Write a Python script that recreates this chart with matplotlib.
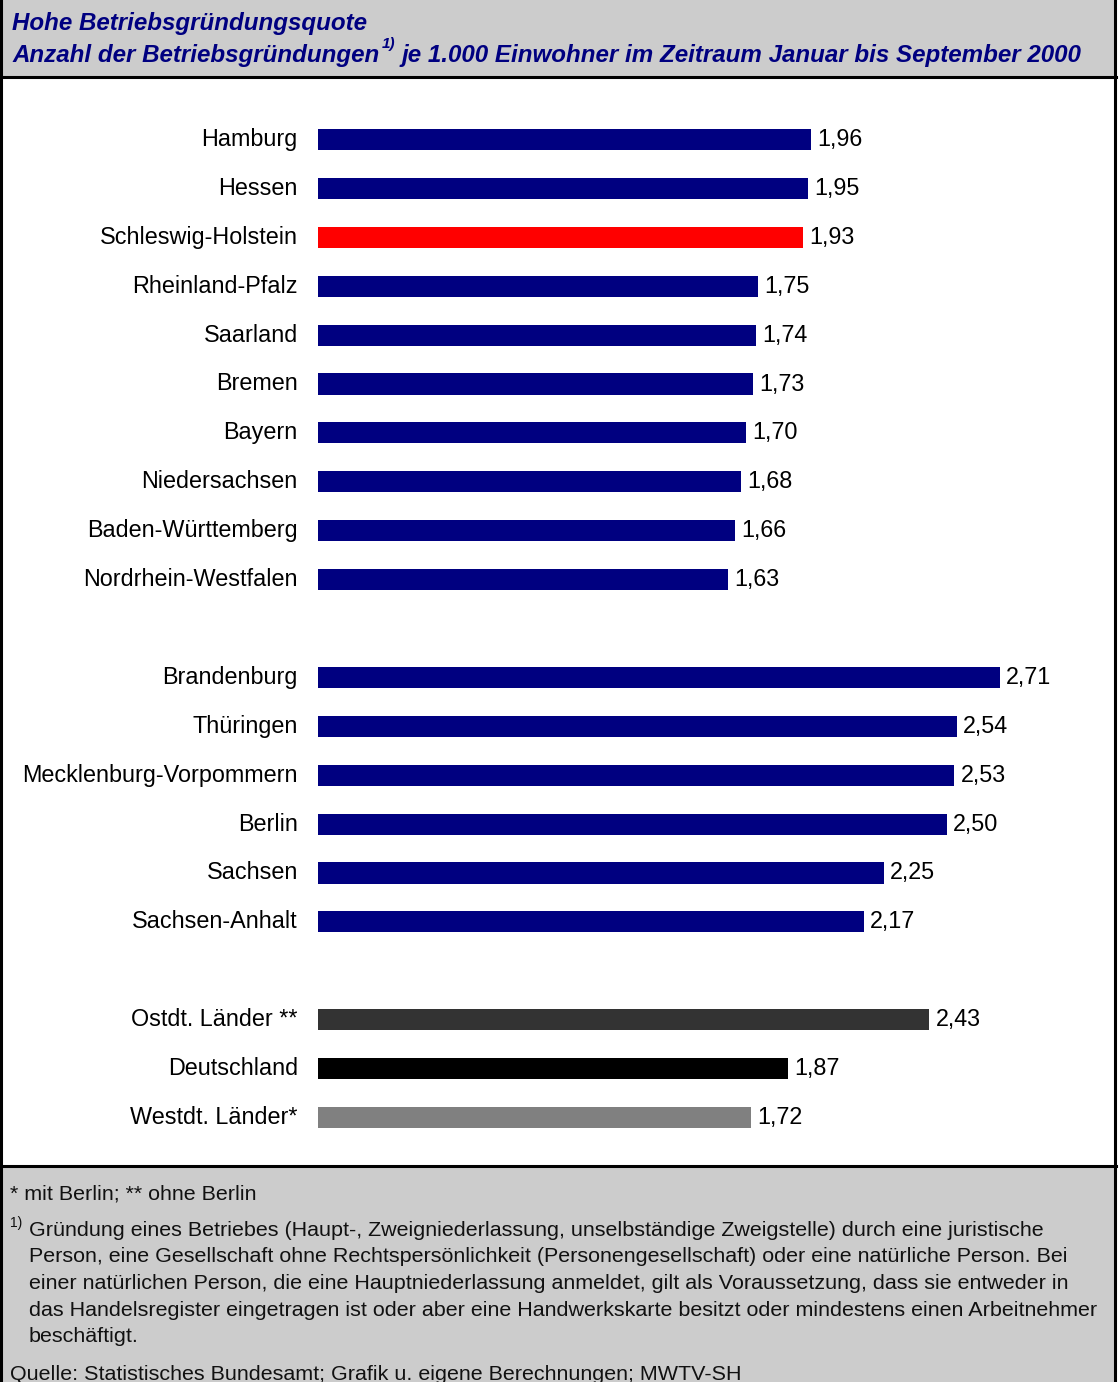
import matplotlib
matplotlib.use("Agg")
import matplotlib.pyplot as plt
from matplotlib.patches import Rectangle
from matplotlib.lines import Line2D

plt.rcParams['font.family'] = ['Liberation Sans', 'DejaVu Sans']

# data
west_laender = ['Hamburg', 'Hessen', 'Schleswig-Holstein', 'Rheinland-Pfalz', 'Saarland',
                'Bremen', 'Bayern', 'Niedersachsen', 'Baden-Württemberg', 'Nordrhein-Westfalen']
west_werte = [1.96, 1.95, 1.93, 1.75, 1.74, 1.73, 1.70, 1.68, 1.66, 1.63]
ost_laender = ['Brandenburg', 'Thüringen', 'Mecklenburg-Vorpommern', 'Berlin', 'Sachsen', 'Sachsen-Anhalt']
ost_werte = [2.71, 2.54, 2.53, 2.50, 2.25, 2.17]
summen = ['Ostdt. Länder **', 'Deutschland', 'Westdt. Länder*']
summen_werte = [2.43, 1.87, 1.72]

NAVY = '#000080'
GREY_BG = '#cccccc'
west_farben = [NAVY if n != 'Schleswig-Holstein' else '#ff0000' for n in west_laender]
ost_farben = [NAVY] * len(ost_laender)
summen_farben = ['#333333', '#000000', '#808080']

W, H = 1120, 1382
fig = plt.figure(figsize=(W / 100, H / 100), dpi=100)
fig.patch.set_facecolor('white')

def fx(px):
    return px / W

def fy(py):
    return 1 - py / H

# header / footer background and frame
fig.patches.append(Rectangle((fx(0), fy(77)), fx(1116), 77 / H, transform=fig.transFigure,
                             facecolor=GREY_BG, edgecolor='none', zorder=0))
fig.patches.append(Rectangle((fx(0), fy(H)), fx(1116), (H - 1166) / H, transform=fig.transFigure,
                             facecolor=GREY_BG, edgecolor='none', zorder=0))
for (x0, y0, x1, y1) in [(1, 0, 1, H), (1115, 0, 1115, H), (0, 77, 1116, 77), (0, 1166, 1116, 1166)]:
    fig.lines.append(Line2D([fx(x0), fx(x1)], [fy(y0), fy(y1)], transform=fig.transFigure,
                            color='black', linewidth=2.2, zorder=1))

# bars
namen, werte, farben, pos = [], [], [], []
i = 0
for gruppe, vals, cols in [(west_laender, west_werte, west_farben),
                           (ost_laender, ost_werte, ost_farben),
                           (summen, summen_werte, summen_farben)]:
    for n, v, c in zip(gruppe, vals, cols):
        namen.append(n); werte.append(v); farben.append(c); pos.append(i)
        i += 1
    i += 1

px_per_unit = 251.5
step = 48.9
ax = fig.add_axes([fx(318), fy(1164), fx(1110) - fx(318), (1164 - 79) / H])
ax.set_facecolor('none')
ax.set_xlim(0, (1110 - 318) / px_per_unit)
ax.set_ylim((1164 - 139.5) / step, -(139.5 - 79) / step)
ax.barh(pos, werte, height=0.43, color=farben)
for p, n, v in zip(pos, namen, werte):
    ax.annotate(n, (0, p), xytext=(-14.5, 0), textcoords='offset points',
                ha='right', va='center', fontsize=16.8)
    ax.annotate(f'{v:.2f}'.replace('.', ','), (v, p), xytext=(4.5, 0), textcoords='offset points',
                ha='left', va='center', fontsize=16.8)
ax.axis('off')

# title
title_kw = dict(color=NAVY, fontweight='bold', fontstyle='italic', transform=fig.transFigure,
                va='baseline', ha='left')
fig.text(fx(12), fy(30), 'Hohe Betriebsgründungsquote', fontsize=17.4, **title_kw)
t1 = fig.text(fx(12), fy(62), 'Anzahl der Betriebsgründungen', fontsize=17.4, **title_kw)
r = fig.canvas.get_renderer()
bb = t1.get_window_extent(r)
t2 = fig.text(bb.x1 / W + fx(3), fy(48), '1)', fontsize=11, **title_kw)
bb2 = t2.get_window_extent(r)
fig.text(bb2.x1 / W + fx(6), fy(62), 'je 1.000 Einwohner im Zeitraum Januar bis September 2000',
         fontsize=17.4, **title_kw)

# footer
foot_kw = dict(transform=fig.transFigure, va='baseline', ha='left', color='#111111')
fig.text(fx(10), fy(1200), '* mit Berlin; ** ohne Berlin', fontsize=15.45, **foot_kw)
fig.text(fx(10), fy(1227), '1)', fontsize=10, **foot_kw)
fussnote = ['Gründung eines Betriebes (Haupt-, Zweigniederlassung, unselbständige Zweigstelle) durch eine juristische',
            'Person, eine Gesellschaft ohne Rechtspersönlichkeit (Personengesellschaft) oder eine natürliche Person. Bei',
            'einer natürlichen Person, die eine Hauptniederlassung anmeldet, gilt als Voraussetzung, dass sie entweder in',
            'das Handelsregister eingetragen ist oder aber eine Handwerkskarte besitzt oder mindestens einen Arbeitnehmer',
            'beschäftigt.']
for k, zeile in enumerate(fussnote):
    fig.text(fx(29), fy(1236 + k * 26.5), zeile, fontsize=15.45, **foot_kw)
fig.text(fx(10), fy(1380), 'Quelle: Statistisches Bundesamt; Grafik u. eigene Berechnungen; MWTV-SH',
         fontsize=15.45, **foot_kw)

fig.savefig('out.png', dpi=100)
